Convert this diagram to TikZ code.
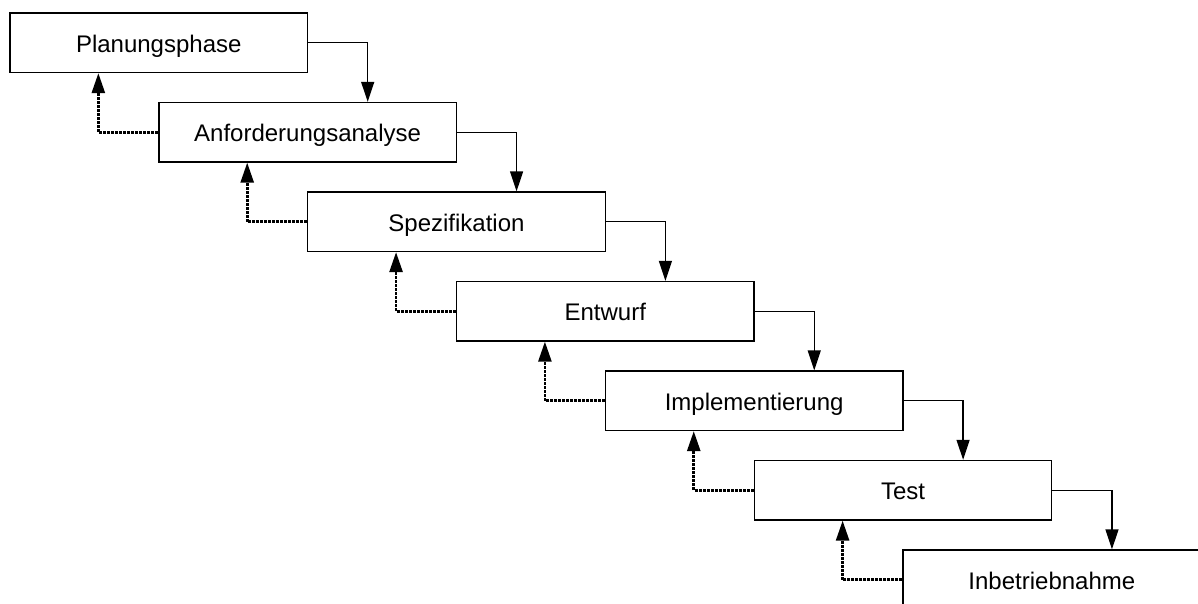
\documentclass[tikz,border=0pt]{standalone}
\usepackage{fontspec}
\setmainfont{Liberation Sans}
\usetikzlibrary{arrows.meta}
\begin{document}
\begin{tikzpicture}[x=1pt,y=-1pt,
  phase/.style={draw, line width=1.3pt, rectangle, minimum width=297.5pt,
    minimum height=59.5pt, inner sep=0pt, font=\fontsize{24}{28}\selectfont,
    text height=19pt, text depth=0pt},
  fwd/.style={draw, line width=1.3pt, -{Triangle[length=20pt,width=13pt]}},
  back/.style={draw, line width=2.6pt, dash pattern=on 3pt off 1pt,
    -{Triangle[length=20pt,width=13pt]}}]
\useasboundingbox (0,0) rectangle (1198,603);
\clip (0,0) rectangle (1198,603);
% phases, stepping down to the right
\node[phase] (p1) at (158.75,42.75)  {Planungsphase};
\node[phase] (p2) at (307.6,132.25)  {Anforderungsanalyse};
\node[phase] (p3) at (456.45,221.75) {Spezifikation};
\node[phase] (p4) at (605.3,311.25)  {Entwurf};
\node[phase] (p5) at (754.15,400.75) {Implementierung};
\node[phase] (p6) at (903.0,490.25)  {Test};
\node[phase] (p7) at (1051.85,579.75) {Inbetriebnahme};
% forward flow and feedback between consecutive phases
\foreach \a/\b in {p1/p2,p2/p3,p3/p4,p4/p5,p5/p6,p6/p7}{
  \draw[fwd] (\a.east) -| ([xshift=209.5pt]\b.north west);
  \draw[back] (\b.west) -| ([xshift=89pt]\a.south west);
}
\end{tikzpicture}
\end{document}
